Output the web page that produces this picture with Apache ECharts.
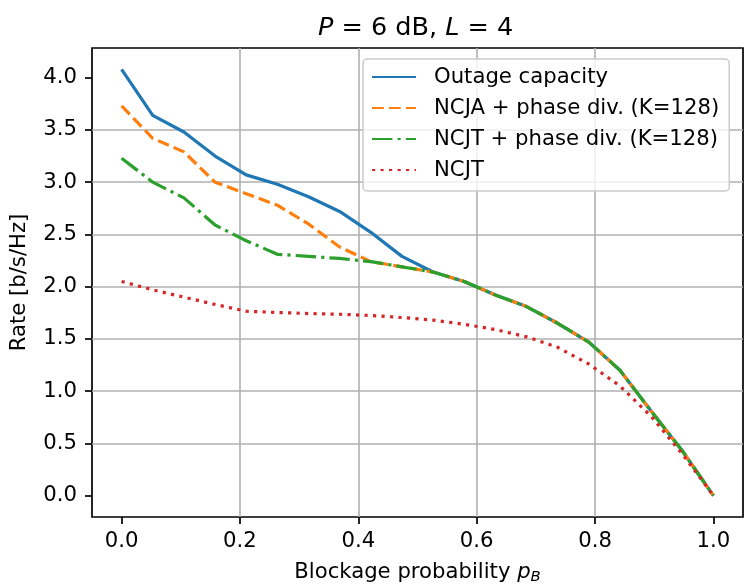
<!DOCTYPE html>
<html><head><meta charset="utf-8">
<script src="https://cdn.jsdelivr.net/npm/echarts@6/dist/echarts.min.js"></script>
<style>html,body{margin:0;padding:0;background:#fff}#c{width:747px;height:584px}</style>
</head><body><div id="c"></div>
<script>
// ---- data ----
const pB = [0, 0.0526, 0.1053, 0.1579, 0.2105, 0.2632, 0.3158, 0.3684, 0.4211, 0.4737,
            0.5263, 0.5789, 0.6316, 0.6842, 0.7368, 0.7895, 0.8421, 0.8947, 0.9474, 1.0];
const outageCapacity = [4.08, 3.64, 3.48, 3.25, 3.07, 2.98, 2.86, 2.72, 2.52, 2.29,
                        2.14, 2.05, 1.92, 1.81, 1.65, 1.47, 1.20, 0.81, 0.43, 0.0];
const ncjaPhaseDiv   = [3.73, 3.42, 3.29, 3.00, 2.89, 2.78, 2.60, 2.38, 2.24, 2.19,
                        2.14, 2.05, 1.92, 1.81, 1.65, 1.47, 1.20, 0.81, 0.43, 0.0];
const ncjtPhaseDiv   = [3.23, 3.00, 2.85, 2.59, 2.44, 2.31, 2.29, 2.27, 2.24, 2.19,
                        2.14, 2.05, 1.92, 1.81, 1.65, 1.47, 1.20, 0.81, 0.43, 0.0];
const ncjt           = [2.05, 1.97, 1.90, 1.83, 1.765, 1.753, 1.743, 1.736, 1.724, 1.705,
                        1.68, 1.64, 1.59, 1.52, 1.42, 1.26, 1.05, 0.76, 0.40, 0.0];
const seriesNames = ['Outage capacity', 'NCJA + phase div. (K=128)', 'NCJT + phase div. (K=128)', 'NCJT'];
const xTicks = [0, 0.2, 0.4, 0.6, 0.8, 1.0];
const yTicks = [0, 0.5, 1.0, 1.5, 2.0, 2.5, 3.0, 3.5, 4.0];

// ---- style ----
const FONT = 'DejaVu Sans';
const FS = 21.2;
const colors = ['#1f77b4', '#ff7f0e', '#2ca02c', '#d62728'];
const dashes = ['solid', [11.8, 5.1], [20.4, 5.1, 3.2, 5.1], [3.2, 5.3]];
const values = [outageCapacity, ncjaPhaseDiv, ncjtPhaseDiv, ncjt];

const chart = echarts.init(document.getElementById('c'), null, {renderer: 'canvas'});

const axisCommon = {
  type: 'value',
  axisLine: {show: false, onZero: false},
  axisTick: {show: true, inside: false, length: 7, lineStyle: {color: '#000', width: 1.7}},
  axisLabel: {color: '#000', fontFamily: FONT, fontSize: FS, formatter: v => v.toFixed(1)},
  splitLine: {show: true, showMinLine: false, showMaxLine: false, lineStyle: {color: '#b0b0b0', width: 1.6}},
  nameLocation: 'middle',
  nameTextStyle: {color: '#000', fontFamily: FONT, fontSize: FS}
};

const option = {
  animation: false,
  backgroundColor: '#fff',
  title: {
    text: '{i|P} = 6 dB, {i|L} = 4',
    left: 313, top: 8,
    textStyle: {
      fontFamily: FONT, fontSize: 25.5, fontWeight: 'normal', color: '#000', lineHeight: 30,
      rich: {i: {fontFamily: FONT, fontSize: 25.5, fontStyle: 'italic', color: '#000', lineHeight: 30}}
    }
  },
  grid: {left: 92, right: 4, top: 48, bottom: 67, show: true, borderColor: '#000', borderWidth: 1.7,
         backgroundColor: 'transparent', outerBoundsMode: 'none', containLabel: false},
  legend: {
    orient: 'vertical', left: 363, top: 59, padding: [7, 10, 10, 8], itemGap: 9,
    itemWidth: 44, itemHeight: 14,
    backgroundColor: 'rgba(255,255,255,0.8)', borderColor: '#cccccc', borderWidth: 1.5, borderRadius: 4,
    itemStyle: {opacity: 0},
    textStyle: {fontFamily: FONT, fontSize: FS, color: '#000', lineHeight: 22, padding: [0, 0, 0, 13]},
    data: seriesNames
  },
  xAxis: Object.assign({}, axisCommon, {
    min: -0.05, max: 1.05, splitNumber: 5,
    axisTick: Object.assign({}, axisCommon.axisTick, {customValues: xTicks}),
    axisLabel: Object.assign({}, axisCommon.axisLabel, {margin: 14, customValues: xTicks}),
    name: '{n|Blockage probability }{i|p}{s|B}',
    nameGap: 42,
    nameTextStyle: {
      color: '#000', fontFamily: FONT, fontSize: FS, lineHeight: 26,
      rich: {
        n: {fontFamily: FONT, fontSize: FS, color: '#000', lineHeight: 26},
        i: {fontFamily: FONT, fontSize: FS, fontStyle: 'italic', color: '#000', lineHeight: 26},
        s: {fontFamily: FONT, fontSize: 14.8, fontStyle: 'italic', color: '#000', lineHeight: 14, verticalAlign: 'bottom'}
      }
    }
  }),
  yAxis: Object.assign({}, axisCommon, {
    min: -0.204, max: 4.284, splitNumber: 9,
    axisTick: Object.assign({}, axisCommon.axisTick, {customValues: yTicks}),
    axisLabel: Object.assign({}, axisCommon.axisLabel, {margin: 15, customValues: yTicks}),
    name: 'Rate [b/s/Hz]',
    nameGap: 57,
    nameTextStyle: {color: '#000', fontFamily: FONT, fontSize: FS, lineHeight: 26}
  }),
  series: seriesNames.map((name, s) => ({
    name: name,
    type: 'line',
    symbol: 'none',
    showSymbol: false,
    data: pB.map((x, i) => [x, values[s][i]]),
    lineStyle: {color: colors[s], width: 3.2, type: dashes[s], cap: 'butt', join: 'round'},
    itemStyle: {color: colors[s]},
    emphasis: {disabled: true},
    z: 3
  }))
};
chart.setOption(option);
</script>
</body></html>
